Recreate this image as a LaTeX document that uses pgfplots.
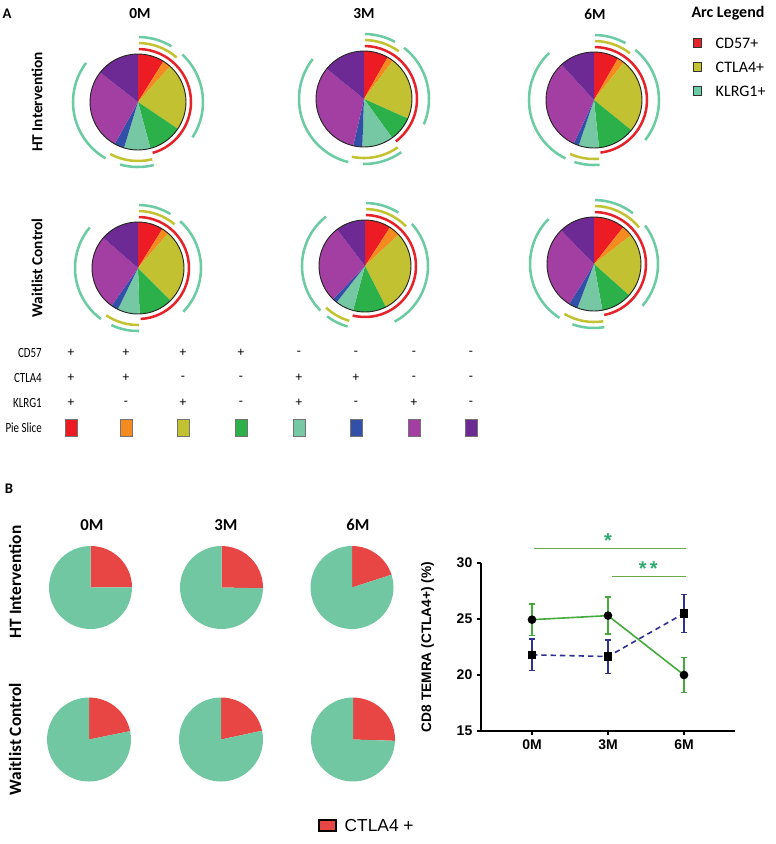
\documentclass[border=0pt]{standalone}
\usepackage{fontspec}
\setmainfont{Carlito}
\newfontfamily\cond[FakeStretch=0.78]{Carlito}
\newfontfamily\arial{Liberation Sans}
\usepackage{pgfplots}
\pgfplotsset{compat=1.18}

% slice colours (panel A)
\definecolor{pRed}{HTML}{ED1C24}
\definecolor{pOrange}{HTML}{F58A1F}
\definecolor{pOlive}{HTML}{C1C131}
\definecolor{pGreen}{HTML}{2BB04A}
\definecolor{pTeal}{HTML}{76C8A4}
\definecolor{pBlue}{HTML}{3350A8}
\definecolor{pMagenta}{HTML}{A33EA3}
\definecolor{pPurple}{HTML}{6E2A94}
% arc colours
\definecolor{aRed}{HTML}{E4232B}
\definecolor{aOlive}{HTML}{C2C232}
\definecolor{aTeal}{HTML}{6BCBA3}
% panel B
\definecolor{bRed}{HTML}{E84545}
\definecolor{bTeal}{HTML}{72C7A3}
\definecolor{lnGreen}{HTML}{45AA3C}
\definecolor{lnBlue}{HTML}{2E3192}
\definecolor{sigLine}{HTML}{6BA84A}
\definecolor{sigStar}{HTML}{2DAA6E}

% one pie slice, angles clockwise from 12 o'clock, radius in px
\newcommand\slice[6]{\fill[#6] (axis cs:#1,#2) -- ++({90-(#4)}:{(#3)*0.75pt})
  arc[start angle={90-(#4)}, end angle={90-(#5)}, radius={(#3)*0.75pt}] -- cycle;}
\newcommand\arcseg[6]{\draw[#6, line width=1.9pt] (axis cs:#1,#2) ++({89-(#4)}:{(#3)*0.75pt})
  arc[start angle={89-(#4)}, end angle={91-(#5)}, radius={(#3)*0.75pt}];}

% cx, cy, then 7 slice sizes in degrees (purple takes the rest)
\def\apiedraw#1#2#3,#4,#5,#6,#7,#8,#9\relax{%
  \pgfmathsetmacro\cA{#3}\pgfmathsetmacro\cB{\cA+#4}\pgfmathsetmacro\cC{\cB+#5}%
  \pgfmathsetmacro\cD{\cC+#6}\pgfmathsetmacro\cE{\cD+#7}\pgfmathsetmacro\cF{\cE+#8}%
  \pgfmathsetmacro\cG{\cF+#9}%
  \slice{#1}{#2}{\pr}{0}{\cA}{pRed}\slice{#1}{#2}{\pr}{\cA}{\cB}{pOrange}%
  \slice{#1}{#2}{\pr}{\cB}{\cC}{pOlive}\slice{#1}{#2}{\pr}{\cC}{\cD}{pGreen}%
  \slice{#1}{#2}{\pr}{\cD}{\cE}{pTeal}\slice{#1}{#2}{\pr}{\cE}{\cF}{pBlue}%
  \slice{#1}{#2}{\pr}{\cF}{\cG}{pMagenta}\slice{#1}{#2}{\pr}{\cG}{360}{pPurple}%
  \draw[line width=0.7pt, black!85] (axis cs:#1,#2) ++(90:{\pr*0.75pt})
    arc[start angle=90, end angle=-270, radius={\pr*0.75pt}];
  \arcseg{#1}{#2}{\pr+5}{0}{\cD}{aRed}%
  \arcseg{#1}{#2}{\pr+11}{0}{\cB}{aOlive}\arcseg{#1}{#2}{\pr+11}{\cD}{\cF}{aOlive}%
  \arcseg{#1}{#2}{\pr+17}{0}{\cA}{aTeal}\arcseg{#1}{#2}{\pr+17}{\cB}{\cC}{aTeal}%
  \arcseg{#1}{#2}{\pr+17}{\cD}{\cE}{aTeal}\arcseg{#1}{#2}{\pr+17}{\cF}{\cG}{aTeal}}
\newcommand\apie[4]{\pgfplotsextra{\def\pr{#3}\apiedraw{#1}{#2}#4\relax}}
% cx, cy, r, CTLA4+ percent
\newcommand\bpie[4]{\pgfplotsextra{\pgfmathsetmacro\ang{3.6*#4}%
  \slice{#1}{#2}{#3}{0}{\ang}{bRed}\slice{#1}{#2}{#3}{\ang}{360}{bTeal}}}

\begin{document}
\begin{tikzpicture}
% canvas axis in pixel units of the reference (y downwards)
\begin{axis}[name=bg, at={(0,0)}, anchor=south west,
  x=0.75pt, y=0.75pt, xmin=0, xmax=776, ymin=0, ymax=844,
  y dir=reverse, enlargelimits=false, hide axis, clip=false]

% ---- panel A
\node[font=\bfseries\fontsize{11}{13}\selectfont] at (axis cs:7,14) {A};
\node[font=\bfseries\fontsize{11.5}{13}\selectfont] at (axis cs:140,14) {0M};
\node[font=\bfseries\fontsize{11.5}{13}\selectfont] at (axis cs:364,14) {3M};
\node[font=\bfseries\fontsize{11.5}{13}\selectfont] at (axis cs:595,14) {6M};
\node[font=\bfseries\fontsize{12}{14}\selectfont] at (axis cs:728,13) {Arc Legend};
\node[rotate=90, font=\bfseries\fontsize{11.5}{13}\selectfont] at (axis cs:37,102) {HT Intervention};
\node[rotate=90, font=\bfseries\fontsize{11.5}{13}\selectfont] at (axis cs:37,268) {Waitlist Control};

\apie{138}{102}{48}{32,10,82,41,32,12,99}
\apie{364}{99}{48}{29.5,7.5,77,30,38,11,116}
\apie{594}{100}{48}{30,8.5,90.5,45,24.6,6.4,112.4}
\apie{138}{268}{46}{32,9,94,43,28,9,96}
\apie{365}{266}{46}{33,14,106,42,23,6,98.6}
\apie{594}{264}{47}{38.5,13.5,79.7,38,31,11,104}

% arc legend
\pgfplotsextra{
\foreach \yy/\cc/\tt in {43/aRed/CD57+, 67/aOlive/CTLA4+, 91/aTeal/KLRG1+}{
  \filldraw[fill=\cc, draw=black!80, line width=0.6pt] (axis cs:697.5,\yy) ++(-3.2pt,-3.2pt) rectangle ++(6.4pt,6.4pt);
  \node[anchor=west, font=\fontsize{12}{14}\selectfont] at (axis cs:711,\yy) {\tt};
}}

% phenotype table
\node[anchor=east, inner xsep=0pt, font=\cond\fontsize{10.5}{12}\selectfont] at (axis cs:42,353) {CD57};
\node[anchor=east, inner xsep=0pt, font=\cond\fontsize{10.5}{12}\selectfont] at (axis cs:42,378) {CTLA4};
\node[anchor=east, inner xsep=0pt, font=\cond\fontsize{10.5}{12}\selectfont] at (axis cs:42,403) {KLRG1};
\node[anchor=east, inner xsep=0pt, font=\cond\fontsize{10.5}{12}\selectfont] at (axis cs:42,428) {Pie Slice};
\pgfplotsextra{
\foreach \xx/\sa/\sb/\sc/\cc in {71/+/+/+/pRed, 126/+/+/-/pOrange, 183/+/-/+/pOlive,
    241/+/-/-/pGreen, 299/-/+/+/pTeal, 356/-/+/-/pBlue, 414/-/-/+/pMagenta, 471/-/-/-/pPurple}{
  \node[font=\fontsize{10}{12}\selectfont] at (axis cs:\xx,353) {\sa};
  \node[font=\fontsize{10}{12}\selectfont] at (axis cs:\xx,378) {\sb};
  \node[font=\fontsize{10}{12}\selectfont] at (axis cs:\xx,403) {\sc};
  \filldraw[fill=\cc, draw=black!55, line width=0.6pt] (axis cs:\xx,428) ++(-4.5pt,-6.6pt) rectangle ++(9pt,13.2pt);
}}

% ---- panel B pies
\node[font=\bfseries\fontsize{11}{13}\selectfont] at (axis cs:9,489) {B};
\node[font=\bfseries\fontsize{12.5}{14}\selectfont] at (axis cs:92,525) {0M};
\node[font=\bfseries\fontsize{12.5}{14}\selectfont] at (axis cs:226,525) {3M};
\node[font=\bfseries\fontsize{12.5}{14}\selectfont] at (axis cs:358,525) {6M};
\node[rotate=90, font=\bfseries\fontsize{13}{15}\selectfont] at (axis cs:15,582) {HT Intervention};
\node[rotate=90, font=\bfseries\fontsize{13}{15}\selectfont] at (axis cs:15,739) {Waitlist Control};
\bpie{90.5}{587.5}{41.5}{24.9}
\bpie{221.5}{587.5}{41.5}{25.3}
\bpie{352}{587.5}{41.5}{20.0}
\bpie{89}{739.5}{42}{21.8}
\bpie{221}{739.5}{42}{21.65}
\bpie{353}{739.5}{42}{25.5}
\filldraw[fill=bRed, draw=black, line width=0.8pt] (axis cs:319,820) rectangle (axis cs:336,831);
\node[anchor=west, font=\arial\fontsize{13}{15}\selectfont] at (axis cs:340,826) {CTLA4 +};
\end{axis}

% ---- panel B line chart
\begin{axis}[at={(360.75pt,84.75pt)}, anchor=south west,
  scale only axis, width=190.5pt, height=126pt,
  xmin=0.329, xmax=3.671, ymin=15, ymax=30,
  axis x line*=bottom, axis y line*=left,
  axis line style={line width=1.1pt, -},
  xtick={1,2,3}, xticklabels={0M,3M,6M}, ytick={15,20,25,30},
  tick align=outside, major tick length=3pt,
  tick style={line width=1.1pt, black},
  ticklabel style={font=\arial\bfseries\fontsize{10.5}{12}\selectfont},
  /pgf/number format/assume math mode=true,
  clip=false]
\addplot[lnBlue, line width=1.2pt, dash pattern=on 4pt off 3pt,
  mark=square*, mark size=2.6pt, mark options={black, fill=black, solid},
  error bars/.cd, y dir=both, y explicit,
  error bar style={lnBlue, line width=1.2pt, solid},
  error mark options={rotate=90, lnBlue, mark size=2.6pt, line width=1.2pt}]
  coordinates {(1,21.8) +- (0,1.4) (2,21.65) +- (0,1.5) (3,25.5) +- (0,1.7)};
\addplot[lnGreen, line width=1.2pt,
  mark=*, mark size=2.6pt, mark options={black, fill=black},
  error bars/.cd, y dir=both, y explicit,
  error bar style={lnGreen, line width=1.2pt},
  error mark options={rotate=90, lnGreen, mark size=2.6pt, line width=1.2pt}]
  coordinates {(1,24.94) +- (0,1.4) (2,25.3) +- (0,1.65) (3,20.0) +- (0,1.55)};
\draw[sigLine, line width=0.9pt] (axis cs:1.02,31.3) -- (axis cs:3.03,31.3);
\draw[sigLine, line width=0.9pt] (axis cs:2.05,28.8) -- (axis cs:3.03,28.8);
\node[sigStar, font=\arial\bfseries\fontsize{15}{15}\selectfont] at (axis cs:2.0,32.0) {*};
\node[sigStar, font=\arial\bfseries\fontsize{15}{15}\selectfont] at (axis cs:2.53,29.5) {*\,*};
\node[rotate=90, font=\arial\bfseries\fontsize{10.3}{12}\selectfont]
  at (axis description cs:-0.21,0.5) {CD8 TEMRA (CTLA4+) (\%)};
\end{axis}
\pgfresetboundingbox
\path (bg.south west) rectangle (bg.north east);
\end{tikzpicture}
\end{document}
